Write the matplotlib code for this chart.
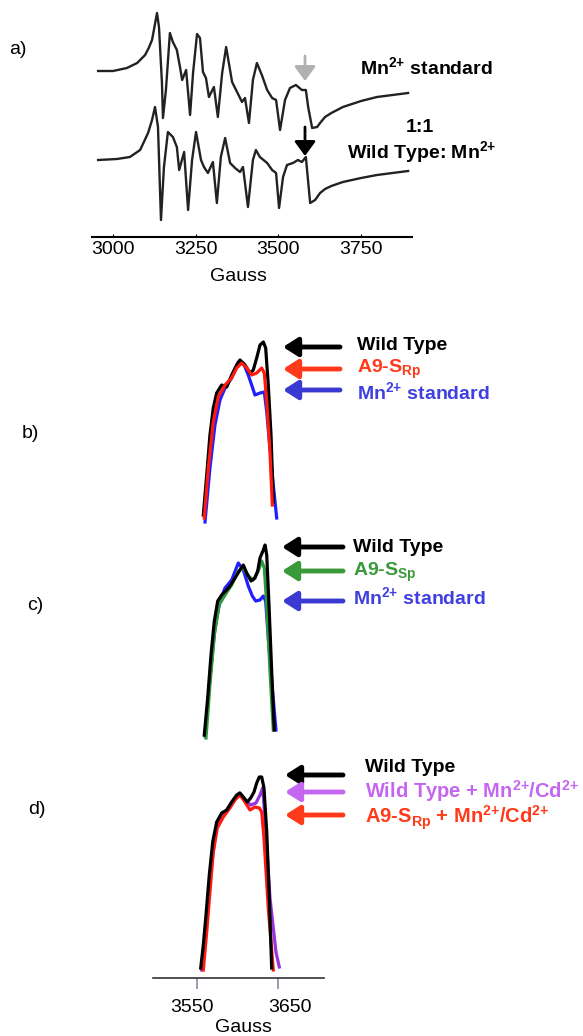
import numpy as np
import matplotlib
matplotlib.use("Agg")
import matplotlib.pyplot as plt
from matplotlib.patches import FancyArrowPatch
from matplotlib.transforms import ScaledTranslation

plt.rcParams['font.family'] = ['Liberation Sans', 'DejaVu Sans']
plt.rcParams['mathtext.fontset'] = 'custom'
plt.rcParams['mathtext.rm'] = 'Liberation Sans'
plt.rcParams['mathtext.bf'] = 'Liberation Sans:bold'

# ---- panel a: full EPR spectra (Gauss, arbitrary intensity) ----
a_std_gauss = [2955, 3000, 3042, 3073, 3097, 3108, 3118, 3133, 3139, 3148, 3151, 3160, 3172, 3181,
               3193, 3203, 3209, 3221, 3233, 3242, 3254, 3263, 3272, 3281, 3290, 3305, 3317,
               3330, 3342, 3360, 3375, 3390, 3399, 3411, 3423, 3435, 3450, 3466, 3481, 3493,
               3505, 3520, 3535, 3553, 3571, 3583, 3590, 3602, 3617, 3626, 3641, 3660, 3695,
               3750, 3798, 3892]
a_std_int = [0, 0, 3, 8, 16, 23, 31, 58, 44, -12, -47, -19, 38, 29,
             21, 3, -9, 1, -44, -2, 37, 33, -1, -7, -26, -16, -46,
             -2, 24, -11, -21, -31, -27, -52, -9, 8, -4, -19, -27, -29,
             -59, -29, -17, -14, -19, -19, -36, -57, -56, -52, -46, -42, -36,
             -30, -26, -22]

a_wt_gauss = [2955, 3012, 3051, 3082, 3106, 3118, 3127, 3136, 3145, 3154, 3166, 3181, 3193, 3200,
              3215, 3227, 3239, 3251, 3266, 3275, 3287, 3302, 3314, 3326, 3339, 3354, 3369,
              3384, 3393, 3408, 3423, 3432, 3444, 3466, 3481, 3493, 3502, 3514, 3526, 3544,
              3559, 3571, 3583, 3596, 3611, 3626, 3641, 3660, 3695, 3750, 3798, 3892]
a_wt_int = [0, 1, 3, 10, 27, 40, 53, 33, -60, -7, 28, 23, 13, -10,
            8, -50, 0, 28, 0, -7, -13, -2, -43, 3, 22, -3, -8,
            -12, -7, -47, 0, 10, 3, -3, -10, -13, -48, -17, -5, -3,
            0, -2, 3, -43, -40, -33, -29, -26, -22, -18, -15, -11]
a_offset = -89
a_ticks = [3000, 3250, 3500, 3750]

# ---- panel b ----
b_wt_gauss = [3557.8, 3562.0, 3566.0, 3570.1, 3574.3, 3580.5, 3586.7, 3592.8, 3599.0, 3603.1,
              3609.3, 3615.4, 3619.5, 3623.7, 3627.8, 3631.9, 3634.8, 3638.0, 3641.4, 3644.2]
b_wt_int = [10, 50, 90, 117, 132, 140, 138, 150, 160, 165, 160, 152, 155, 167, 180, 183, 177, 140, 90, 23]
b_rp_gauss = [3559.0, 3564.0, 3570.1, 3576.3, 3584.6, 3592.8, 3599.0, 3605.2, 3611.4, 3617.5,
              3623.7, 3629.9, 3633.1, 3636.1, 3640.1, 3643.0]
b_rp_int = [7, 57, 103, 128, 140, 147, 157, 162, 157, 150, 152, 157, 152, 123, 73, 20]
b_mn_gauss = [3559.9, 3566.0, 3572.2, 3578.4, 3584.6, 3592.8, 3601.0, 3607.2, 3613.3, 3617.5,
              3621.6, 3627.8, 3633.1, 3636.1, 3640.1, 3644.2, 3648.4]
b_mn_int = [3, 57, 100, 125, 137, 147, 163, 162, 150, 140, 130, 132, 133, 113, 77, 40, 7]

# ---- panel c ----
c_wt_gauss = [3559.0, 3563.2, 3567.3, 3571.4, 3575.6, 3580.5, 3585.4, 3590.7, 3596.9, 3603.1, 3607.2,
              3611.4, 3616.7, 3621.6, 3624.9, 3627.8, 3631.9, 3634.0, 3636.1, 3638.9, 3642.2, 3645.4]
c_wt_int = [5, 42, 85, 119, 139, 145, 149, 154, 162, 170, 175, 167, 159, 162, 169, 182, 190, 195,
            185, 135, 69, 10]
c_sp_gauss = [3561.1, 3566.0, 3571.4, 3577.2, 3584.6, 3592.8, 3601.0, 3607.2, 3613.3, 3619.5,
              3625.7, 3629.9, 3633.1, 3636.1, 3640.1, 3644.2]
c_sp_int = [2, 55, 105, 135, 145, 155, 169, 172, 164, 160, 169, 179, 172, 135, 69, 10]
c_mn_gauss = [3559.9, 3566.0, 3572.2, 3578.4, 3584.6, 3592.8, 3601.0, 3607.2, 3613.3, 3618.3,
              3622.5, 3627.8, 3631.9, 3634.8, 3638.0, 3643.0, 3647.5]
c_mn_int = [4, 62, 112, 139, 152, 160, 177, 170, 154, 144, 139, 140, 144, 139, 102, 52, 10]

# ---- panel d ----
d_wt_gauss = [3554.6, 3557.8, 3561.1, 3565.2, 3569.4, 3574.3, 3580.5, 3586.7, 3592.8, 3599.0, 3603.1,
              3607.2, 3612.1, 3616.3, 3620.4, 3623.7, 3626.9, 3629.9, 3632.7, 3636.1, 3639.3, 3642.2]
d_wt_int = [10, 33, 63, 103, 136, 156, 165, 168, 176, 183, 185, 181, 176, 180, 186, 195, 201, 201,
            190, 146, 80, 10]
d_wtcd_gauss = [3555.8, 3562.0, 3568.1, 3574.3, 3582.5, 3592.8, 3602.2, 3609.3, 3616.3, 3622.8,
                3627.8, 3631.1, 3634.0, 3640.1, 3647.5, 3651.6]
d_wtcd_int = [8, 56, 113, 153, 163, 175, 185, 178, 173, 175, 183, 190, 160, 80, 26, 11]
d_rpcd_gauss = [3557.8, 3562.0, 3566.0, 3570.1, 3575.1, 3582.5, 3590.7, 3596.9, 3603.1, 3609.3,
                3615.4, 3621.6, 3626.9, 3629.9, 3632.7, 3638.0, 3644.2]
d_rpcd_int = [8, 46, 86, 126, 150, 161, 170, 178, 183, 176, 168, 171, 170, 166, 140, 70, 8]
d_ticks = [3550, 3650]

SUP = r'$^{\mathbf{2}\mathbf{{+}}}$'

W, H = 583, 1036
fig = plt.figure(figsize=(W / 100, H / 100), dpi=100)


def px_axes(left, top, right, bottom):
    return fig.add_axes([left / W, 1 - bottom / H, (right - left) / W, (bottom - top) / H])


def fpos(x, y):
    return (x / W, 1 - y / H)


def label(x, y, s, color='black', ha='left', weight='bold', size=14):
    fig.text(*fpos(x, y), s, color=color, ha=ha, va='center', fontsize=size, fontweight=weight)


def arrow(x0, x1, y0, y1, color, lw=3.5, ms=16, hw=0.35):
    fig.add_artist(FancyArrowPatch(
        fpos(x0, y0), fpos(x1, y1), transform=fig.transFigure, color=color,
        arrowstyle='-|>,head_length=0.55,head_width=%s' % hw, mutation_scale=ms, lw=lw,
        shrinkA=0, shrinkB=0))


# panel a
ax = px_axes(92, 5, 412, 237)
ax.plot(a_std_gauss, a_std_int, color='#222222', lw=1.7, solid_joinstyle='round')
ax.plot(a_wt_gauss, np.array(a_wt_int) + a_offset, color='#222222', lw=1.7, solid_joinstyle='round')
ax.set_xlim(2936.5, 3903.9)
ax.set_ylim(-166, 66)
for s in ['left', 'right', 'top']:
    ax.spines[s].set_visible(False)
ax.spines['bottom'].set_linewidth(1.5)
ax.set_yticks([])
ax.set_xticks(a_ticks)
ax.tick_params(axis='x', labelsize=14, length=2, direction='in', pad=3)
ax.set_xlabel('Gauss', fontsize=14, va='center')
ax.xaxis.set_label_coords(0.459, -0.172)

arrow(305, 305, 56, 81, '#b0b0b0', lw=2, ms=16, hw=0.4)
arrow(305, 305, 127, 156, 'black', lw=2, ms=16, hw=0.4)
label(360, 68, 'Mn' + SUP + ' standard')
label(420, 127, '1:1', ha='center')
label(347, 153, 'Wild Type: Mn' + SUP)
label(9, 50, 'a)', weight='normal')

xl = (3495.7, 3706.8)

# panel b
ax = px_axes(153, 335, 324, 525)
ax.plot(b_mn_gauss, b_mn_int, color='#2020ff', lw=2.3)
ax.plot(b_wt_gauss, b_wt_int, color='black', lw=2.3)
ax.plot(b_rp_gauss, b_rp_int, color='#ff1a10', lw=2.3)
ax.set_xlim(*xl)
ax.set_ylim(0, 190)
ax.axis('off')
arrow(340, 283, 347, 347, 'black')
arrow(340, 283, 369, 369, '#ff3a1a')
arrow(340, 283, 390, 390, '#3a3ad0')
label(357, 346, 'Wild Type')
label(357, 369, r'A9-S$_{\mathbf{Rp}}$', color='#ff3a1a')
label(357, 393, 'Mn' + SUP + ' standard', color='#4040e0')
label(22, 434, 'b)', weight='normal')

# panel c
ax = px_axes(153, 540, 324, 740)
ax.plot(c_mn_gauss, c_mn_int, color='#2020ff', lw=2.3)
ax.plot(c_sp_gauss, c_sp_int, color='#2e9b3a', lw=2.3)
ax.plot(c_wt_gauss, c_wt_int, color='black', lw=2.3)
ax.set_xlim(*xl)
ax.set_ylim(0, 200)
ax.axis('off')
arrow(343, 282, 547, 547, 'black')
arrow(343, 282, 571, 571, '#3a9a3a')
arrow(343, 282, 601, 601, '#3a3ad0')
label(353, 548, 'Wild Type')
label(353, 572, r'A9-S$_{\mathbf{Sp}}$', color='#3a9a3a')
label(353, 598, 'Mn' + SUP + ' standard', color='#4040e0')
label(27, 605, 'c)', weight='normal')

# panel d
ax = px_axes(153, 765, 324, 978)
ax.plot(d_wtcd_gauss, d_wtcd_int, color='#9933dd', lw=2.3)
ax.plot(d_rpcd_gauss, d_rpcd_int, color='#ff1a10', lw=2.3)
ax.plot(d_wt_gauss, d_wt_int, color='black', lw=2.3)
ax.set_xlim(*xl)
ax.set_ylim(0, 213)
for s in ['left', 'right', 'top']:
    ax.spines[s].set_visible(False)
ax.spines['bottom'].set_linewidth(1.2)
ax.spines['bottom'].set_color('#333333')
ax.set_yticks([])
ax.set_xticks(d_ticks)
ax.tick_params(axis='x', labelsize=14, length=8, width=1.2, color='#7f90a8', pad=7)
for lab, dx in zip(ax.get_xticklabels(), [-5, 12]):
    lab.set_transform(lab.get_transform() + ScaledTranslation(dx / 100, 0, fig.dpi_scale_trans))
ax.set_xlabel('Gauss', fontsize=14, va='center')
ax.xaxis.set_label_coords((243 - 153) / 171, -(1028 - 978) / 213)
arrow(343, 285, 775, 775, 'black')
arrow(343, 285, 792, 792, '#c466f0')
arrow(343, 285, 815, 815, '#ff3a1a')
label(365, 767, 'Wild Type')
label(365, 791, 'Wild Type + Mn' + SUP + '/Cd' + SUP, color='#c466f0', size=14.5)
label(365, 818, r'A9-S$_{\mathbf{Rp}}$ + Mn' + SUP + '/Cd' + SUP, color='#ff3a1a', size=14.5)
label(28, 810, 'd)', weight='normal')

fig.savefig('out.png', dpi=100)
